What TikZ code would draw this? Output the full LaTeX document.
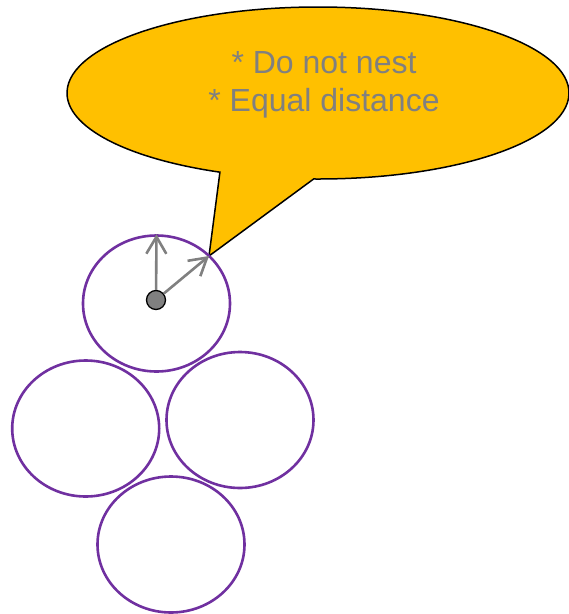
\documentclass[tikz,border=0pt]{standalone}
\usepackage{fontspec}
\setmainfont{Liberation Sans}
\usetikzlibrary{shapes.geometric,arrows.meta}
\definecolor{rpurple}{HTML}{7030A0}
\definecolor{rgold}{HTML}{FFC000}
\definecolor{rgray}{HTML}{808080}
\tikzset{
  ring/.style={ellipse, draw=rpurple, line width=2.6pt, minimum width=147pt, minimum height=136pt, inner sep=0pt},
  calloutshape/.style={fill=rgold, draw=black, line width=1.5pt, line join=miter},
  pointer/.style={draw=rgray, line width=2.6pt, arrows={-Straight Barb[length=17pt,width=20pt]}},
  centerdot/.style={circle, fill=rgray, draw=black, line width=1.3pt, minimum size=19pt, inner sep=0pt},
  bubbletext/.style={text=rgray, font=\fontsize{32}{38.4}\selectfont, align=center, inner sep=0pt}
}
\begin{document}
\begin{tikzpicture}[x=1pt,y=-1pt]
\useasboundingbox (0,0) rectangle (569,614);
% callout
\coordinate (tip) at (209,256);
\path[calloutshape] (318,93) ++(91:251 and 86)
  arc[start angle=91, end angle=-247, x radius=251, y radius=86]
  -- (tip) -- cycle;
\node[bubbletext] (txt) at (324,85) {* Do not nest\\* Equal distance};
% rings
\node[ring] (c1) at (156.5,303.5) {};
\node[ring] (c2) at (85.7,428.5) {};
\node[ring] (c3) at (240,420) {};
\node[ring] (c4) at (171,544.5) {};
% centre dot and arrows
\node[centerdot] (dot) at (156,300) {};
\draw[pointer] (dot) -- (c1.north);
\draw[pointer] (dot) -- (tip);
\end{tikzpicture}
\end{document}
